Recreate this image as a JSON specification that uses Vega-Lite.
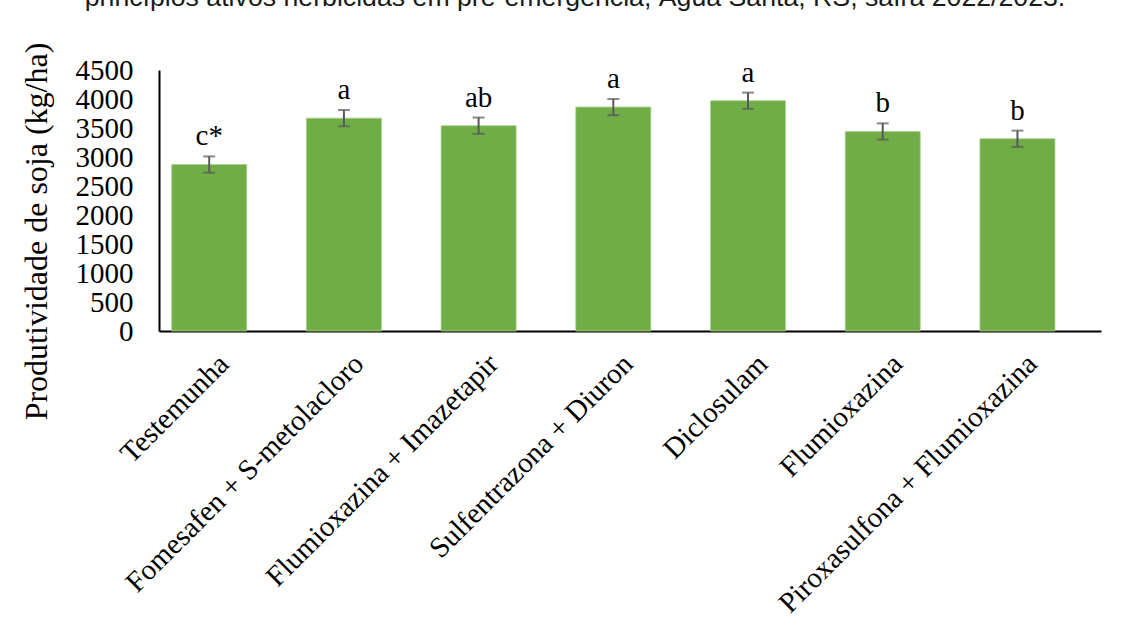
{
  "$schema": "https://vega.github.io/schema/vega-lite/v6.json",
  "autosize": "none",
  "width": 942,
  "height": 261,
  "padding": {"left": 159, "top": 70, "right": 30, "bottom": 300},
  "background": "white",
  "title": {
    "text": "princípios ativos herbicidas em pré-emergência, Água Santa, RS, safra 2022/2023.",
    "font": "Liberation Sans",
    "fontSize": 26.7,
    "fontWeight": "normal",
    "color": "#1a1a1a",
    "anchor": "middle",
    "frame": "group",
    "baseline": "alphabetic",
    "dx": -55,
    "offset": 9
  },
  "data": {
    "values": [
      {"tratamento": "Testemunha", "produtividade": 2870, "erro": 140, "letra": "c*"},
      {"tratamento": "Fomesafen + S-metolacloro", "produtividade": 3670, "erro": 140, "letra": "a"},
      {"tratamento": "Flumioxazina + Imazetapir", "produtividade": 3540, "erro": 140, "letra": "ab"},
      {"tratamento": "Sulfentrazona + Diuron", "produtividade": 3860, "erro": 140, "letra": "a"},
      {"tratamento": "Diclosulam", "produtividade": 3970, "erro": 140, "letra": "a"},
      {"tratamento": "Flumioxazina", "produtividade": 3440, "erro": 140, "letra": "b"},
      {"tratamento": "Piroxasulfona + Flumioxazina", "produtividade": 3315, "erro": 140, "letra": "b"}
    ]
  },
  "transform": [
    {"calculate": "datum.produtividade - datum.erro", "as": "inferior"},
    {"calculate": "datum.produtividade + datum.erro", "as": "superior"}
  ],
  "encoding": {
    "x": {
      "field": "tratamento",
      "type": "nominal",
      "sort": null,
      "scale": {"paddingInner": 0.443, "paddingOuter": 0.218, "align": 0.216},
      "axis": {
        "title": null,
        "labelAngle": -45,
        "labelFont": "Liberation Serif",
        "labelFontSize": 29,
        "labelColor": "#000000",
        "labelPadding": 18,
        "labelOffset": 5,
        "labelLimit": 600,
        "ticks": false,
        "domainColor": "#000000",
        "domainWidth": 2
      }
    }
  },
  "layer": [
    {
      "mark": {"type": "bar", "color": "#70AD47", "stroke": "#A9D08E", "strokeWidth": 0.8},
      "encoding": {
        "y": {
          "field": "produtividade",
          "type": "quantitative",
          "title": "Produtividade de soja (kg/ha)",
          "scale": {"domain": [0, 4500], "nice": false},
          "axis": {"values": [0, 500, 1000, 1500, 2000, 2500, 3000, 3500, 4000, 4500]}
        }
      }
    },
    {
      "mark": {"type": "rule", "color": "#595959", "strokeWidth": 2},
      "encoding": {
        "y": {
          "field": "inferior",
          "type": "quantitative",
          "title": "Produtividade de soja (kg/ha)",
          "axis": {"values": [0, 500, 1000, 1500, 2000, 2500, 3000, 3500, 4000, 4500]}
        },
        "y2": {"field": "superior"}
      }
    },
    {
      "mark": {"type": "tick", "color": "#595959", "thickness": 2, "size": 12, "orient": "horizontal"},
      "encoding": {
        "y": {
          "field": "inferior",
          "type": "quantitative",
          "title": "Produtividade de soja (kg/ha)",
          "axis": {"values": [0, 500, 1000, 1500, 2000, 2500, 3000, 3500, 4000, 4500]}
        }
      }
    },
    {
      "mark": {"type": "tick", "color": "#595959", "thickness": 2, "size": 12, "orient": "horizontal"},
      "encoding": {
        "y": {
          "field": "superior",
          "type": "quantitative",
          "title": "Produtividade de soja (kg/ha)",
          "axis": {"values": [0, 500, 1000, 1500, 2000, 2500, 3000, 3500, 4000, 4500]}
        }
      }
    },
    {
      "mark": {"type": "text", "font": "Liberation Serif", "fontSize": 29, "color": "#000000", "baseline": "alphabetic", "dy": -11},
      "encoding": {
        "y": {
          "field": "superior",
          "type": "quantitative",
          "title": "Produtividade de soja (kg/ha)",
          "axis": {"values": [0, 500, 1000, 1500, 2000, 2500, 3000, 3500, 4000, 4500]}
        },
        "text": {"field": "letra"}
      }
    }
  ],
  "config": {
    "view": {"stroke": null},
    "axisY": {
      "titleFont": "Liberation Serif",
      "titleFontSize": 32,
      "titleFontWeight": "normal",
      "titleColor": "#000000",
      "titleX": -123,
      "titleY": 161,
      "titleAngle": 270,
      "titleAlign": "center",
      "titleBaseline": "middle",
      "format": "d",
      "labelOverlap": false,
      "labelFont": "Liberation Serif",
      "labelFontSize": 29,
      "labelColor": "#000000",
      "labelPadding": 26,
      "ticks": false,
      "grid": false,
      "domainColor": "#000000",
      "domainWidth": 2
    }
  }
}
